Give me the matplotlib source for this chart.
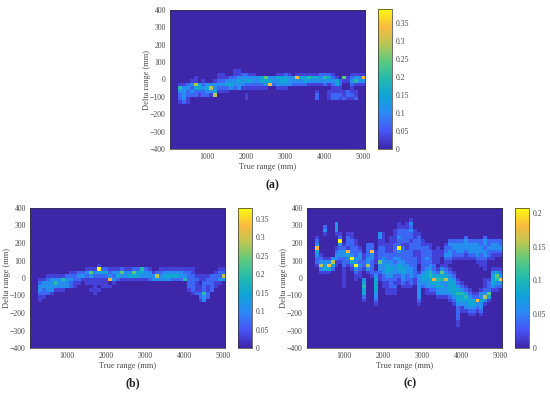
import numpy as np
import matplotlib
matplotlib.use('Agg')
from matplotlib import pyplot as plt
from matplotlib.colors import LinearSegmentedColormap

plt.rcParams['font.family'] = ['Liberation Serif', 'DejaVu Serif']

parula = LinearSegmentedColormap.from_list('parula', [
    (0.2422, 0.1504, 0.6603), (0.2810, 0.3228, 0.9579), (0.1786, 0.5289, 0.9682),
    (0.0600, 0.6400, 0.8500), (0.1300, 0.7300, 0.6900), (0.3500, 0.7900, 0.5000),
    (0.7200, 0.7800, 0.3300), (0.9800, 0.7300, 0.2400), (0.9800, 0.9800, 0.0600)])

# levels 0-9 of the colour scale, one string per row, columns 300..5000 mm
rows_a_top = 60
rows_a = [
    "0000000000 0000110000 0000000000 0000000000 00000000",
    "0000000000 1100112211 0000011210 1111112221 00001111",
    "0000100000 1112233333 3463344433 8445443542 10612338",
    "0001101001 2233343443 3444334433 3343333333 42113533",
    "1123742333 3344333222 2238233332 2221111212 42002111",
    "5332443473 2223231111 1110011100 0000000001 11001000",
    "3323222334 1110000000 0000000000 0000010011 11121100",
    "2322212217 0000000100 0000000000 0000020012 22122100",
    "2310000000 0000000100 0000000000 0000020012 21211200",
    "1210000000 0000000000 0000000000 0000000000 00000000",
]

rows_b_top = 80
rows_b = [
    "0000000000 0000010000 0000000000 0000000000 00000000",
    "0000000000 0011192211 1211225210 0111111111 00000011",
    "0000000011 2236334423 3633644331 2233333221 00000122",
    "0011111222 3323222232 4334443333 7344443322 11112227",
    "1123335332 2111111183 2111111123 3333222522 21122233",
    "2333533321 1011111101 0000000000 0000000022 10222110",
    "3333333321 0000101110 0000000000 0000000022 11212100",
    "3233111000 0001110000 0000000000 0000000012 11212000",
    "2221000000 0000100000 0000000000 0000000001 22520000",
    "1100000000 0000000000 0000000000 0000000000 02320000",
    "1000000000 0000000000 0000000000 0000000000 01300000",
]

# panel c is written per column, top of each column at 360 mm
cols_c_top = 360
cols_c = [
    "0000001238 4322100000 0000000000000",
    "0000000000 0123731000 0000000000000",
    "0002310000 0013441000 0000000000000",
    "0000000000 0013841000 0000000000000",
    "0000000000 0037420000 0000000000000",
    "0034310001 2331100000 0000000000000",
    "0000012932 3321000000 0000000000000",
    "0000000012 3322211111 1000000000000",
    "0000012221 8432100000 0000000000000",
    "0000011222 2394210000 0000000000000",
    "0000000112 2233932110 0000000000000",
    "0000000001 2332321100 0000000000000",
    "0000000000 0112210034 5442100000000",
    "0000000022 2233731000 0000000000000",
    "0000000022 8332222100 0000000000000",
    "0000000000 1111002344 4433210000000",
    "0000033112 2226332110 0000000000000",
    "0000011112 2233333221 1000000000000",
    "0000000011 1223444321 1110000000000",
    "0000001111 1223343322 2110000000000",
    "0000111122 2232333221 2110000000000",
    "0011223229 3233443211 0000000000000",
    "0001222212 2223344332 1000000000000",
    "0011222211 2222333221 1000000000000",
    "0132322122 2222233322 1000000000000",
    "0000111222 1122222211 0000000000000",
    "0000012222 1111001333 3333210000000",
    "0000000112 2222223443 2000000000000",
    "0000000012 2232234443 3110000000000",
    "0000000011 2222335544 3210000000000",
    "0000000000 1111223484 3210000000000",
    "0000000001 1111012454 4331000000000",
    "0000000000 1100136453 4331000000000",
    "0000000012 2321123473 3331000000000",
    "0000000232 3321012344 4432100000000",
    "0000000233 2210001234 4443210000000",
    "0000000233 3210000012 3454432222110",
    "0000000233 3210000001 2354431100000",
    "0000002333 2110000000 1245433100000",
    "0000000233 3210000000 0123443210000",
    "0000000233 3210000000 0012443210000",
    "0000000233 3321000000 0012832100000",
    "0000000223 3221100000 0133433210000",
    "0000002332 3321110011 1237310000000",
    "0000000223 2210000012 2264100000000",
    "0000000233 2110013444 3100000000000",
    "0000000233 2100014653 2100000000000",
    "0000000223 2100012383 2000000000000",
]

vmax_a, vmax_b, vmax_c = 0.39, 0.38, 0.207
ticks_ab = [0, 0.05, 0.1, 0.15, 0.2, 0.25, 0.3, 0.35]
ticks_c = [0, 0.05, 0.1, 0.15, 0.2]
x_ticks = [1000, 2000, 3000, 4000, 5000]
y_ticks = [-400, -300, -200, -100, 0, 100, 200, 300, 400]
TEXT = '#4a4a4a'
W, H = 550, 395


def to_grid(rows, top):
    # rows run downwards from the top edge, 20 mm each
    levels = np.array([[int(c) for c in r.replace(' ', '')] for r in rows], dtype=float)
    grid = np.zeros((40, 48))
    start = (400 - top) // 20
    grid[start:start + levels.shape[0], :] = levels
    return grid


def px_axes(x0, x1, y0, y1):
    return fig.add_axes([x0 / W, 1 - y1 / H, (x1 - x0) / W, (y1 - y0) / H])


def panel(box, cbox, grid, vmax, cticks, tag, tag_xy):
    ax = px_axes(*box)
    # low levels sit close to the dark end of the scale
    im = ax.imshow((grid / 9) ** 1.15 * vmax, cmap=parula, vmin=0, vmax=vmax, aspect='auto',
                   extent=(250, 5050, -400, 400), interpolation='nearest')
    ax.set_facecolor(parula(0.0))
    ax.set_xlim(50, 5050)
    ax.set_ylim(-400, 400)
    ax.set_xticks(x_ticks)
    ax.set_yticks(y_ticks)
    ax.tick_params(length=0, labelsize=5.6, labelcolor=TEXT, pad=3)
    ax.set_xlabel('True range (mm)', fontsize=6, color=TEXT)
    ax.set_ylabel('Delta range (mm)', fontsize=6, color=TEXT)
    ax.xaxis.set_label_coords(0.5, -0.1)
    ax.yaxis.set_label_coords(-0.095, 0.5)
    for s in ax.spines.values():
        s.set_linewidth(0.5)
        s.set_color('#333333')
    cax = px_axes(*cbox)
    cb = fig.colorbar(im, cax=cax)
    cb.set_ticks(cticks)
    cb.set_ticklabels([f'{t:g}' for t in cticks])
    cb.ax.tick_params(length=0, labelsize=5.6, labelcolor=TEXT, pad=3)
    cb.outline.set_linewidth(0.5)
    cb.outline.set_edgecolor('#333333')
    fig.text(tag_xy[0] / W, 1 - tag_xy[1] / H, tag, fontsize=8.5, fontweight='bold',
             color='#222222', ha='center', va='center')


fig = plt.figure(figsize=(5.5, 3.95), dpi=100)
panel((170, 365, 10, 149), (378, 392, 9, 149), to_grid(rows_a, rows_a_top), vmax_a, ticks_ab, '(a)', (272, 185))
panel((30, 225, 208, 348), (238, 252, 208, 348), to_grid(rows_b, rows_b_top), vmax_b, ticks_ab, '(b)', (133, 383))
grid_c = to_grid([''.join(c) for c in zip(*[s.replace(' ', '') for s in cols_c])], cols_c_top)
panel((307, 502, 208, 348), (515, 529, 208, 348), grid_c, vmax_c, ticks_c, '(c)', (410, 383))
fig.savefig('out.png', dpi=100)
